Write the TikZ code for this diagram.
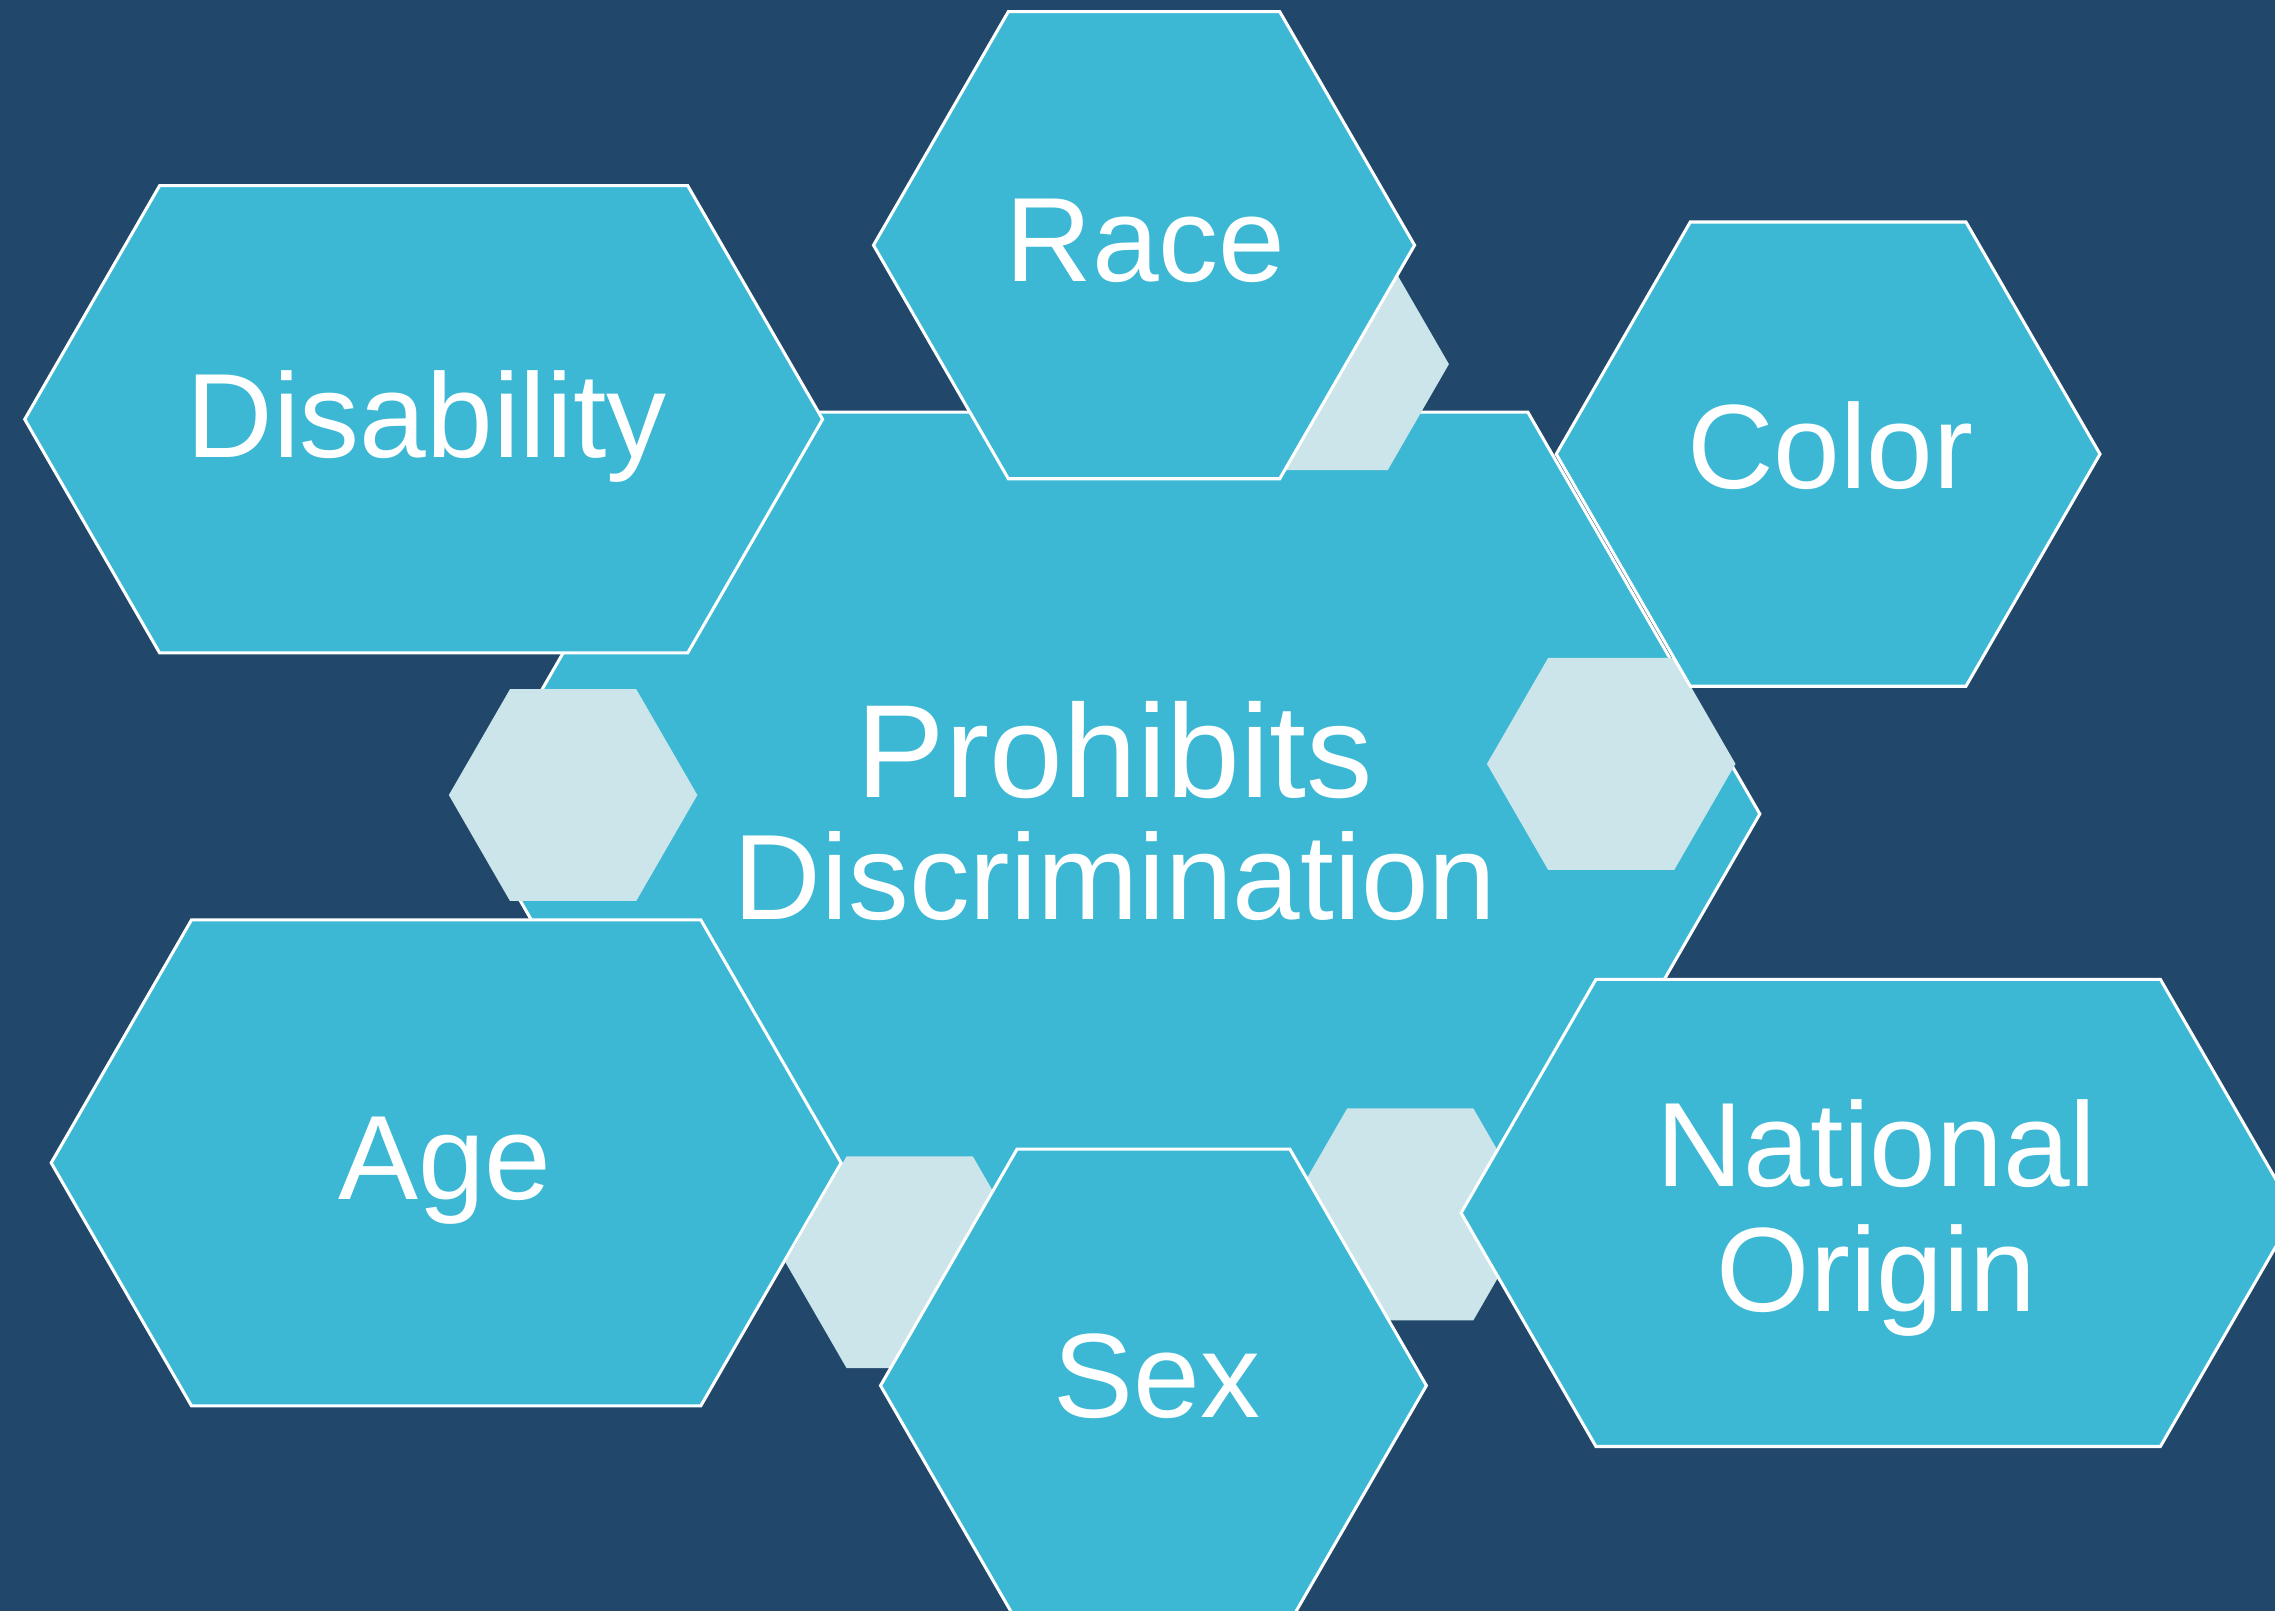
\documentclass[tikz,border=0pt]{standalone}
\usepackage{fontspec}
\setmainfont{Liberation Sans}
\usepackage{xcolor}
\usepackage{tikz}
\usetikzlibrary{positioning, calc}
\definecolor{navybg}{HTML}{21476B}
\definecolor{cellblue}{HTML}{3CB8D4}
\definecolor{cellpale}{HTML}{CCE5EA}
% hexagon: style, centre x, centre y, half top edge, half height
\newcommand{\hexcell}[5][cell]{%
  \path[#1] ({#2-#4-0.5774*#5},#3) -- ({#2-#4},{#3-#5}) -- ({#2+#4},{#3-#5})
    -- ({#2+#4+0.5774*#5},#3) -- ({#2+#4},{#3+#5}) -- ({#2-#4},{#3+#5}) -- cycle;}
\tikzset{
  cell/.style={fill=cellblue, draw=white, line width=0.6pt},
  spacer/.style={fill=cellpale},
  celltext/.style={text=white, font=\fontsize{23.5}{24.5}\selectfont, align=center, inner sep=0, anchor=base},
  x=0.01cm, y=-0.01cm
}

\begin{document}
\begin{tikzpicture}
    \useasboundingbox (0,0) rectangle (1568,1110);
    \clip (0,0) rectangle (1568,1110);
    \fill[navybg] (-5,-5) rectangle (1573,1115);
    % centre
    \hexcell{768.5}{561}{284.5}{277}
    % pale spacers
    \hexcell[spacer]{395}{548}{43.5}{73}
    \hexcell[spacer]{1110.5}{526.5}{43.5}{73}
    \hexcell[spacer]{913}{251}{43.5}{73}
    \hexcell[spacer]{627}{870}{43.5}{73}
    \hexcell[spacer]{972}{837}{43.5}{73}
    % outer cells
    \hexcell{292}{289}{182}{161}
    \hexcell{788.5}{169}{93.5}{161}
    \hexcell{1260}{313}{95}{160}
    \hexcell{307.5}{801.5}{175.5}{167.5}
    \hexcell{795}{955}{94}{163}
    \hexcell{1294.5}{836}{194.5}{161}
    % labels (base = last line)
    \node[celltext] (prohibits) at (768.5,634) {{\fontsize{26}{26}\selectfont Prohibits}\\[-0.5pt]{\fontsize{23.8}{23.8}\selectfont Discrimination}};
    \node[celltext] (disability) at (294,315) {Disability};
    \node[celltext] (race) at (789.5,194) {Race};
    \node[celltext] (color) at (1261.5,337) {Color};
    \node[celltext] (age) at (306.5,827) {Age};
    \node[celltext] (sex) at (797.5,977) {Sex};
    \node[celltext] (natorigin) at (1293.5,904) {National\\Origin};
\end{tikzpicture}
\end{document}
